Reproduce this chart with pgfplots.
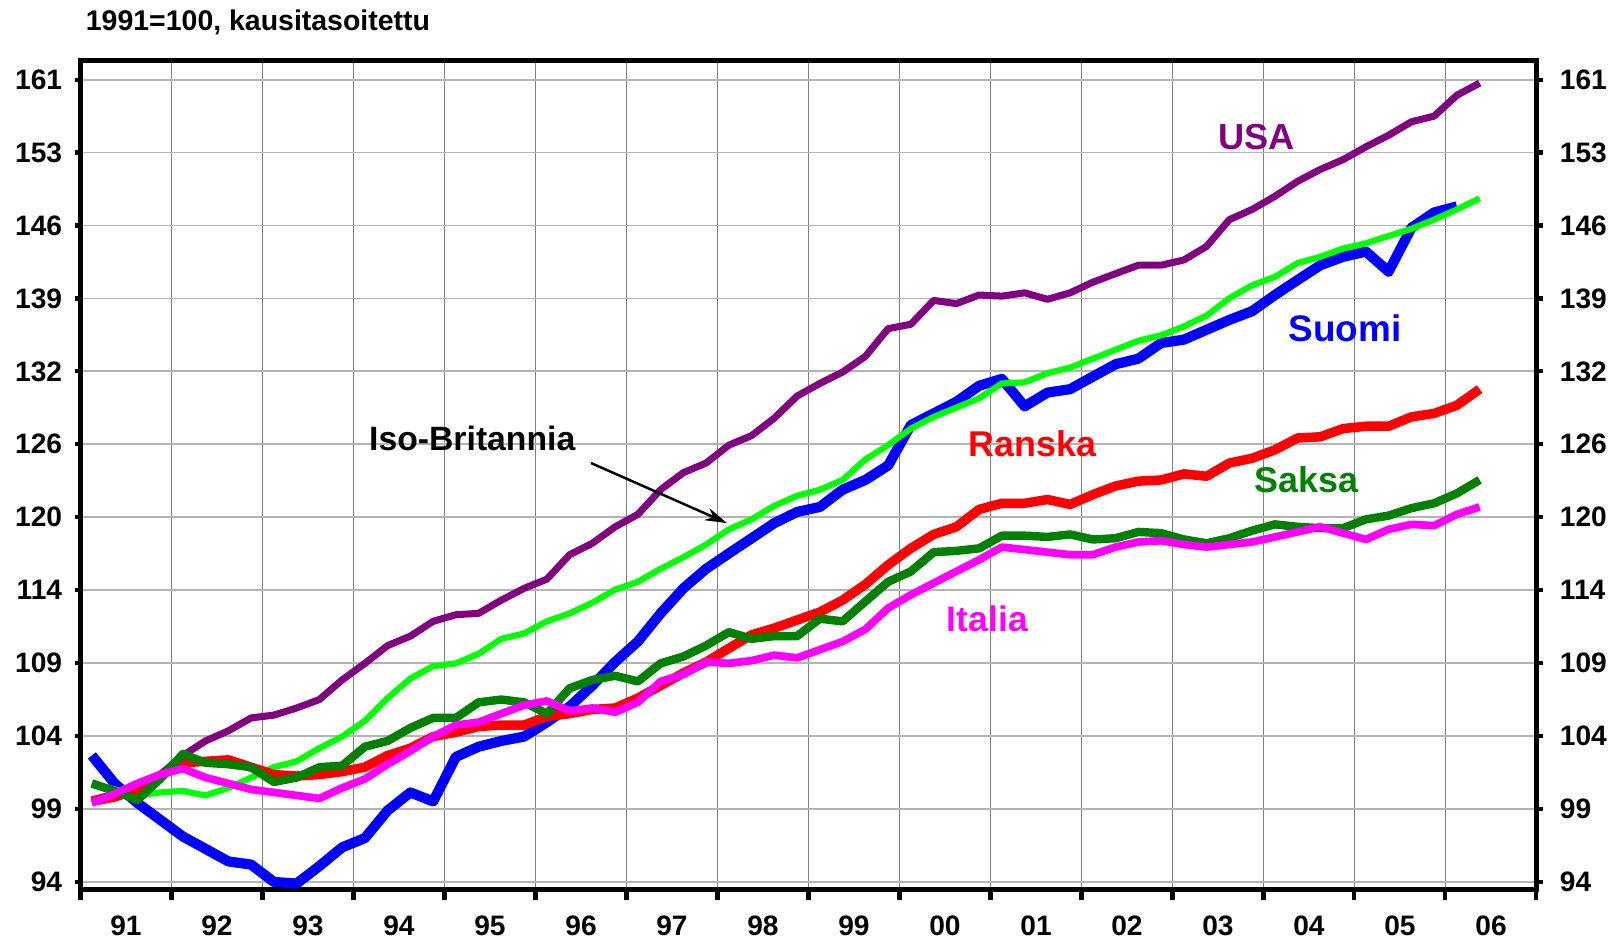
\documentclass[border=0pt]{standalone}
\usepackage{pgfplots}
\pgfplotsset{compat=1.18}
\usepackage{pgfplotstable}
\usepackage{fontspec}
\setmainfont{Liberation Sans}
\usetikzlibrary{arrows.meta}

\definecolor{usa}{RGB}{128,0,128}
\definecolor{suomi}{RGB}{0,0,255}
\definecolor{uk}{RGB}{0,255,0}
\definecolor{ranska}{RGB}{255,0,0}
\definecolor{saksa}{RGB}{0,128,0}
\definecolor{italia}{RGB}{255,0,255}
\definecolor{vgrid}{RGB}{128,128,128}
\definecolor{hgrid}{RGB}{180,180,180}

% quarterly GDP index, 1991=100
\pgfplotstableread{
t        usa   suomi uk    ranska saksa italia
1991.125 99.3  102.3 100.4 99.2   100.4 99.1
1991.375 99.7  100.4 100.0 99.5   99.9  99.7
1991.625 100.4 99.1  99.6  100.0  99.3  100.4
1991.875 101.0 98.0  99.8  100.9  100.7 101.0
1992.125 102.3 96.9  99.9  101.8  102.4 101.4
1992.375 103.3 96.1  99.6  101.9  101.8 100.8
1992.625 104.0 95.3  100.1 102.0  101.7 100.4
1992.875 104.9 95.1  100.8 101.5  101.5 100.0
1993.125 105.1 94.0  101.5 101.0  100.5 99.8
1993.375 105.6 93.9  101.9 100.9  100.8 99.6
1993.625 106.2 95.0  102.8 101.0  101.5 99.4
1993.875 107.6 96.2  103.6 101.2  101.6 100.1
1994.125 108.8 96.8  104.7 101.5  102.9 100.7
1994.375 110.1 98.6  106.3 102.3  103.3 101.7
1994.625 110.8 99.8  107.7 102.8  104.2 102.6
1994.875 111.9 99.2  108.6 103.6  104.9 103.6
1995.125 112.4 102.2 108.8 103.9  104.9 104.4
1995.375 112.5 102.9 109.5 104.3  106.0 104.6
1995.625 113.5 103.3 110.6 104.4  106.2 105.2
1995.875 114.4 103.6 111.0 104.4  106.0 105.8
1996.125 115.1 104.6 111.9 105.0  105.2 106.1
1996.375 117.0 105.7 112.5 105.2  107.0 105.4
1996.625 117.9 107.2 113.3 105.5  107.6 105.6
1996.875 119.2 108.9 114.3 105.6  107.9 105.3
1997.125 120.2 110.4 114.9 106.3  107.5 106.0
1997.375 122.2 112.5 115.9 107.2  108.8 107.5
1997.625 123.6 114.4 116.8 108.1  109.3 108.0
1997.875 124.4 115.9 117.8 108.9  110.1 108.9
1998.125 125.9 117.1 119.0 109.9  111.1 108.8
1998.375 126.7 118.3 119.8 110.9  110.6 109.0
1998.625 128.2 119.5 120.9 111.4  110.8 109.4
1998.875 130.1 120.4 121.7 112.0  110.8 109.2
1999.125 131.2 120.8 122.2 112.6  112.1 109.8
1999.375 132.2 122.2 123.0 113.5  111.9 110.4
1999.625 133.6 123.0 124.7 114.7  113.4 111.3
1999.875 136.1 124.2 125.9 116.2  114.9 112.9
2000.125 136.5 127.6 127.3 117.5  115.7 113.9
2000.375 138.7 128.6 128.3 118.6  117.2 114.8
2000.625 138.4 129.6 129.1 119.2  117.3 115.7
2000.875 139.2 131.0 129.9 120.6  117.5 116.6
2001.125 139.1 131.6 131.2 121.1  118.5 117.6
2001.375 139.4 129.2 131.3 121.1  118.5 117.4
2001.625 138.8 130.4 132.1 121.4  118.4 117.2
2001.875 139.4 130.7 132.6 121.0  118.6 117.0
2002.125 140.4 131.8 133.4 121.8  118.2 117.0
2002.375 141.2 132.9 134.2 122.5  118.3 117.6
2002.625 142.0 133.4 135.0 122.9  118.8 118.0
2002.875 142.0 134.8 135.5 123.0  118.7 118.1
2003.125 142.5 135.1 136.3 123.5  118.2 117.8
2003.375 143.8 136.0 137.3 123.3  117.9 117.6
2003.625 146.4 136.9 138.9 124.4  118.3 117.8
2003.875 147.4 137.7 140.1 124.8  118.9 118.0
2004.125 148.7 139.2 140.9 125.5  119.4 118.4
2004.375 150.2 140.6 142.2 126.5  119.2 118.8
2004.625 151.4 142.0 142.8 126.6  119.1 119.2
2004.875 152.4 142.8 143.6 127.3  119.1 118.7
2005.125 153.7 143.3 144.1 127.5  119.8 118.2
2005.375 154.9 141.4 144.8 127.5  120.1 119.0
2005.625 156.3 145.6 145.5 128.3  120.7 119.4
2005.875 156.9 147.1 146.4 128.6  121.1 119.3
2006.125 159.1 147.7 147.4 129.3  121.9 120.2
2006.375 160.4 nan   148.5 130.7  123.0 120.8
}\gdp

\def\yt{94,98.7,103.635,108.817,114.258,119.971,125.97,132.268,138.882,145.826,153.117,160.773}
\def\ytl{94,99,104,109,114,120,126,132,139,146,153,161}

\begin{document}
\begin{tikzpicture}
\begin{axis}[name=ax,
  scale only axis, width=14.56cm, height=8.29cm,
  xmin=1991, xmax=2007,
  ymode=log, ymin=93.5, ymax=162.8,
  ytick/.expanded=\yt, yticklabels/.expanded=\ytl,
  tick align=outside,
  major tick length=0.06cm,
  minor tick length=0.1cm,
  tick style={black, line width=1.2pt},
  tick label style={font=\bfseries\fontsize{8}{10}\selectfont},
  axis line style={line width=1.4pt},
  xtick={1991.5,1992.5,...,2006.5},
  xticklabels={91,92,93,94,95,96,97,98,99,00,01,02,03,04,05,06},
  xtick pos=left, ytick pos=left,
  major x tick style={draw=none},
  minor xtick={1991,1992,...,2007},
  xminorgrids, minor x grid style={vgrid, line width=0.35pt},
  ymajorgrids, major y grid style={hgrid, line width=0.5pt},
  xticklabel style={yshift=-0.08cm},
  no markers,
]
\addplot[usa,    line width=2.0pt, line join=round] table[x=t, y=usa]    {\gdp};
\addplot[suomi,  line width=2.9pt, line join=round] table[x=t, y=suomi]  {\gdp};
\addplot[uk,     line width=1.75pt, line join=round] table[x=t, y=uk]     {\gdp};
\addplot[ranska, line width=2.7pt, line join=round] table[x=t, y=ranska] {\gdp};
\addplot[saksa,  line width=2.4pt, line join=round] table[x=t, y=saksa]  {\gdp};
\addplot[italia, line width=2.2pt, line join=round] table[x=t, y=italia] {\gdp};

\node[text=usa,    font=\bfseries\fontsize{10.3}{12}\selectfont] at (axis cs:2003.925,154.7) {USA};
\node[text=suomi,  font=\bfseries\fontsize{10.5}{12}\selectfont] at (axis cs:2004.896,136.1) {Suomi};
\node[text=ranska, font=\bfseries\fontsize{10.2}{12}\selectfont] at (axis cs:2001.464,126.0) {Ranska};
\node[text=saksa,  font=\bfseries\fontsize{10.2}{12}\selectfont] at (axis cs:2004.475,123.0) {Saksa};
\node[text=italia, font=\bfseries\fontsize{10.1}{12}\selectfont] at (axis cs:2000.965,112.1) {Italia};
\node[text=black,  font=\bfseries\fontsize{9.6}{12}\selectfont] at (axis cs:1995.305,126.5) {Iso-Britannia};
\draw[-{Stealth[length=0.22cm,width=0.13cm]}, line width=0.7pt]
  (axis cs:1996.61,124.4) -- (axis cs:1998.104,119.5);
\end{axis}

% right-hand tick labels
\begin{axis}[
  scale only axis, width=14.56cm, height=8.29cm,
  xmin=1991, xmax=2007,
  ymode=log, ymin=93.5, ymax=162.8,
  ytick/.expanded=\yt, yticklabels/.expanded=\ytl,
  tick align=outside,
  major tick length=0.06cm,
  tick style={black, line width=1.2pt},
  tick label style={font=\bfseries\fontsize{8}{10}\selectfont},
  yticklabel style={xshift=0.05cm},
  hide x axis,
  axis line style={draw=none},
  ytick pos=right, yticklabel pos=right,
]
\end{axis}

\node[anchor=west, font=\bfseries\fontsize{8.1}{10}\selectfont]
  at ([xshift=-0.07cm, yshift=0.39cm]ax.north west) {1991=100, kausitasoitettu};

\pgfresetboundingbox
\path[use as bounding box] ([xshift=-0.805cm, yshift=-0.54cm]ax.south west)
  rectangle ([xshift=0.805cm, yshift=0.61cm]ax.north east);
\end{tikzpicture}
\end{document}
